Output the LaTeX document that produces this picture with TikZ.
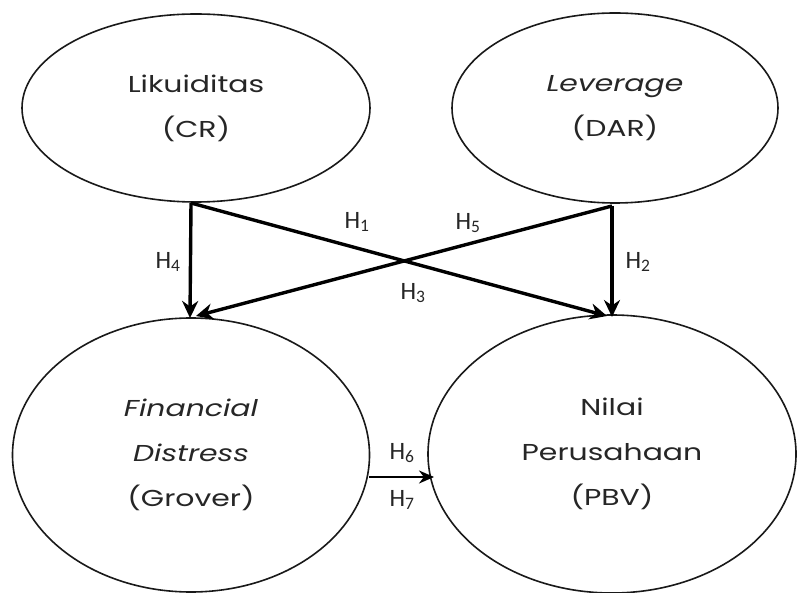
\documentclass[tikz,border=0pt]{standalone}
\usepackage{fontspec}
\setmainfont[FakeStretch=1.3]{Poppins}
\newfontfamily\lblfont{Carlito}
\usetikzlibrary{shapes.geometric,arrows.meta}
\begin{document}
\begin{tikzpicture}[x=1pt,y=-1pt,
  oval/.style={draw=black!90,line width=1.6pt,ellipse,inner sep=0pt,align=center,
    font=\fontsize{23}{45}\selectfont,text=black!85},
  conn/.style={line width=3.4pt,-{Stealth[length=17pt,width=16pt]}},
  hlab/.style={font=\lblfont\fontsize{25}{26}\selectfont,text=black!85,inner sep=0pt}]
\useasboundingbox (0,0) rectangle (798,593);
\fill[white] (0,0) rectangle (798,593);
\node[oval,minimum width=348pt,minimum height=188pt] (L) at (196,108) {Likuiditas\\(CR)};
\node[oval,minimum width=326pt,minimum height=190pt] (V) at (615,108) {\textit{Leverage}\\(DAR)};
\node[oval,minimum width=357pt,minimum height=274pt] (F) at (191,455) {\textit{Financial}\\\textit{Distress}\\(Grover)};
\node[oval,minimum width=368pt,minimum height=278pt] (N) at (612,454) {Nilai\\Perusahaan\\(PBV)};
\coordinate (ls) at (191,203);
\coordinate (rs) at (612,206);
\coordinate (lt) at (190,318);
\coordinate (rt) at (612,317);
\coordinate (lx) at (196,316);
\coordinate (rx) at (607,316);
\draw[conn] (ls) -- (lt);
\draw[conn] (rs) -- (rt);
\draw[conn] (ls) -- (rx);
\draw[conn] (rs) -- (lx);
\coordinate (ms) at (369,477);
\coordinate (me) at (434,477);
\draw[line width=2.2pt,-{Stealth[length=15pt,width=13pt]}] (ms) -- (me);
\node[hlab] (h1) at (357,222) {H\textsubscript{1}};
\node[hlab] (h5) at (468,223) {H\textsubscript{5}};
\node[hlab] (h3) at (413,293) {H\textsubscript{3}};
\node[hlab] (h4) at (168,262) {H\textsubscript{4}};
\node[hlab] (h2) at (638,262) {H\textsubscript{2}};
\node[hlab] (h6) at (402,453) {H\textsubscript{6}};
\node[hlab] (h7) at (402,500) {H\textsubscript{7}};
\end{tikzpicture}
\end{document}
